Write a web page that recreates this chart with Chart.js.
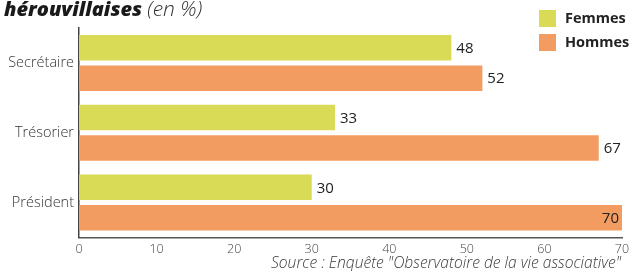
<!DOCTYPE html>
<html>
<head>
<meta charset="utf-8">
<script src="https://cdn.jsdelivr.net/npm/chart.js@4"></script>
<style>
  body { margin: 0; background: #fff; font-family: "Open Sans", sans-serif; }
  #wrap { position: relative; width: 630px; height: 271px; overflow: hidden; }
  #title { position: absolute; left: 4px; top: -6px; font-size: 20px; font-style: italic; color: #1a1a1a; }
  #title b { font-weight: 800; }
  #title span { font-weight: 300; color: #333; font-size: 21px; }
  #source { position: absolute; right: 9px; top: 251px; font-size: 15.6px; font-style: italic; color: #3a3a3a; font-weight: 300; white-space: nowrap; }
  .leg { position: absolute; left: 539px; font-size: 14.5px; font-weight: 700; color: #222; }
  .leg i { position: absolute; left: 0; top: 0; width: 17px; height: 17px; }
  .leg span { position: absolute; left: 26px; top: -2px; white-space: nowrap; }
</style>
</head>
<body>
<div id="wrap">
  <canvas id="c" width="630" height="271"></canvas>
  <div id="title"><b>hérouvillaises</b> <span>(en %)</span></div>
  <div class="leg" style="top:10px"><i style="background:#d9da55"></i><span>Femmes</span></div>
  <div class="leg" style="top:34px"><i style="background:#f29c62"></i><span>Hommes</span></div>
  <div id="source">Source : Enquête "Observatoire de la vie associative"</div>
</div>
<script>
// fonctions dans les associations
const categories = ['Secrétaire', 'Trésorier', 'Président'];
const femmes = [48, 33, 30];
const hommes = [52, 67, 70];
const xTicks = [0, 10, 20, 30, 40, 50, 60, 70];

// draw the value at the end of each bar (inside when there is no room left)
const valueLabels = {
  id: 'valueLabels',
  afterDatasetsDraw(chart) {
    const ctx = chart.ctx;
    ctx.save();
    ctx.font = '15px "Open Sans", sans-serif';
    ctx.fillStyle = '#222';
    ctx.textBaseline = 'middle';
    chart.data.datasets.forEach((ds, i) => {
      chart.getDatasetMeta(i).data.forEach((bar, j) => {
        const txt = String(ds.data[j]);
        const w = ctx.measureText(txt).width;
        if (bar.x + 5 + w > chart.width) {
          ctx.textAlign = 'right';
          ctx.fillText(txt, bar.x - 3, bar.y + 1);
        } else {
          ctx.textAlign = 'left';
          ctx.fillText(txt, bar.x + 5, bar.y + 1);
        }
      });
    });
    ctx.restore();
  }
};

new Chart(document.getElementById('c'), {
  type: 'bar',
  data: {
    labels: categories,
    datasets: [
      { label: 'Femmes', data: femmes, backgroundColor: '#d9da55' },
      { label: 'Hommes', data: hommes, backgroundColor: '#f29c62' }
    ]
  },
  options: {
    indexAxis: 'y',
    responsive: false,
    animation: false,
    layout: { padding: { top: 28, right: 8, left: 0, bottom: 0 } },
    categoryPercentage: 0.874,
    barPercentage: 0.836,
    plugins: { legend: { display: false }, tooltip: { enabled: false } },
    scales: {
      x: {
        min: 0, max: 70,
        afterBuildTicks: s => { s.ticks = xTicks.map(v => ({ value: v })); },
        grid: { display: false, drawTicks: false },
        border: { display: true, color: '#555', width: 1.5 },
        ticks: { color: '#444', font: { size: 12.5, family: '"Open Sans", sans-serif', weight: 300 }, padding: 4 },
        afterFit: s => { s.height = 33.5; s.paddingRight = 0; s.paddingLeft = 0; }
      },
      y: {
        grid: { display: false, drawTicks: false },
        border: { display: true, color: '#444', width: 1.5 },
        ticks: { color: '#333', font: { size: 14.5, family: '"Open Sans", sans-serif', weight: 300 }, padding: 5 },
        afterFit: s => { s.width = 79; }
      }
    }
  },
  plugins: [valueLabels]
});
</script>
</body>
</html>
